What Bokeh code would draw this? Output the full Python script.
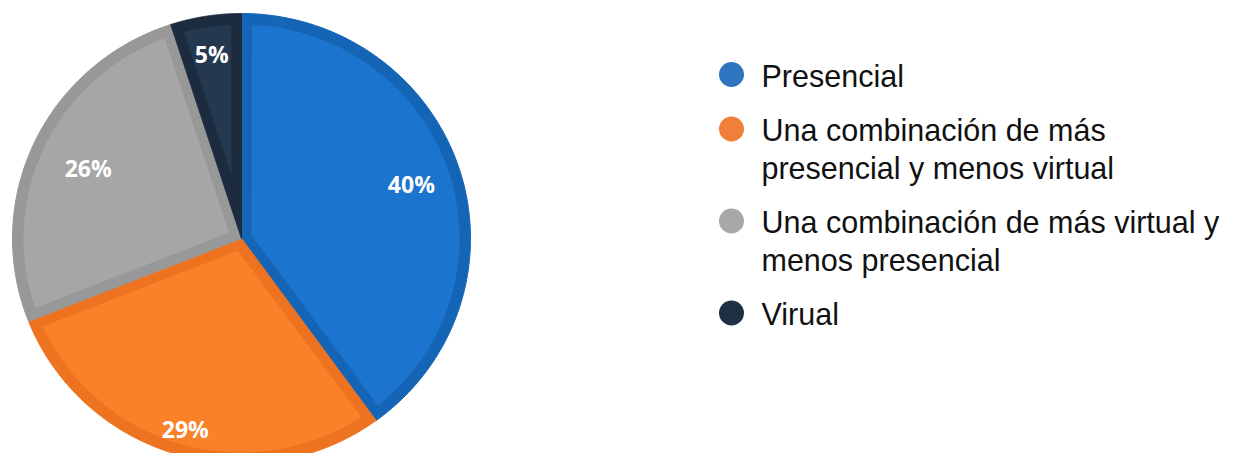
import numpy as np
from bokeh.plotting import figure
from bokeh.models import Range1d
from bokeh.core.properties import value
from bokeh.embed import file_html
from bokeh.resources import INLINE

# ---- data ----
categories = [
    "Presencial",
    "Una combinación de más\npresencial y menos virtual",
    "Una combinación de más virtual y\nmenos presencial",
    "Virual",
]
percent = [40, 29, 26, 5]

# ---- styles ----
fill_colors = ["#1B74CE", "#F98127", "#A6A6A6", "#243850"]
edge_colors = ["#1565B6", "#EE7320", "#989898", "#1C2B3E"]
dot_colors = ["#2E75C0", "#F07F3A", "#A8A8A8", "#1F3044"]
label_frac = [0.78, 0.88, 0.74, 0.83]

W, H = 1229, 453
p = figure(width=W, height=H, x_range=Range1d(0, W), y_range=Range1d(H, 0),
           output_backend="svg", toolbar_location=None, min_border=0)
p.axis.visible = False
p.grid.visible = False
p.outline_line_color = None
p.background_fill_color = "white"

cx, cy, rx, ry = 241, 238, 229, 225
d_side, d_arc = 10, 11

total = float(sum(percent))
start = 0.0
xs_out, ys_out, xs_in, ys_in = [], [], [], []
lx, ly, ltxt = [], [], []
for v, f in zip(percent, label_frac):
    a0 = 2 * np.pi * start / total
    a1 = 2 * np.pi * (start + v) / total
    t = np.linspace(a0, a1, 120)
    xs_out.append([cx] + list(cx + rx * np.sin(t)))
    ys_out.append([cy] + list(cy - ry * np.cos(t)))
    half = (a1 - a0) / 2
    mid = a0 + half
    apex_r = d_side / np.sin(half)
    ax_ = cx + apex_r * np.sin(mid)
    ay_ = cy - apex_r * np.cos(mid)
    rix, riy = rx - d_arc, ry - d_arc
    delta = np.arcsin(d_side / min(rix, riy))
    ti = np.linspace(a0 + delta, a1 - delta, 120)
    xs_in.append([ax_] + list(cx + rix * np.sin(ti)))
    ys_in.append([ay_] + list(cy - riy * np.cos(ti)))
    lx.append(cx + f * rx * np.sin(mid))
    ly.append(cy - f * ry * np.cos(mid))
    ltxt.append(f"{v}%")
    start += v

p.patches(xs_out, ys_out, fill_color=edge_colors, line_color=edge_colors, line_width=1)
p.patches(xs_in, ys_in, fill_color=fill_colors, line_color=None)

p.text(x=lx, y=ly, text=ltxt, text_font=value("Open Sans"), text_font_style="bold",
       text_font_size="23px", text_color="white", text_align="center", text_baseline="middle")

# ---- legend ----
base0, line_sp, row_gap = 87, 37.5, 54.5
dot_x, text_x = 731, 761
dx, dy, tx, ty, tt = [], [], [], [], []
b = base0
for cat, c in zip(categories, dot_colors):
    lines = cat.split("\n")
    dx.append(dot_x)
    dy.append(b - 13)
    for i, ln in enumerate(lines):
        tx.append(text_x)
        ty.append(b + i * line_sp - 12)
        tt.append(ln)
    b = b + (len(lines) - 1) * line_sp + row_gap

p.scatter(x=dx, y=dy, size=25, fill_color=dot_colors, line_color=None)
p.text(x=tx, y=ty, text=tt, text_font=value("Liberation Sans"), text_font_size="30.5px",
       text_color="#111111", text_align="left", text_baseline="alphabetic")

open("out.html", "w").write(file_html(p, INLINE))
